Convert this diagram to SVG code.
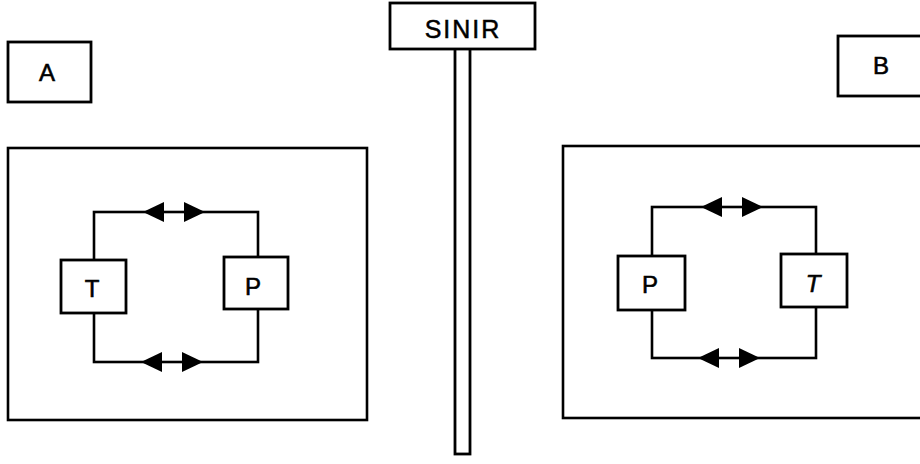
<svg xmlns="http://www.w3.org/2000/svg" width="920" height="464" viewBox="0 0 920 464">
  <style>
    .box { fill: #fff; stroke: #000; stroke-width: 2.8; }
    .frame { fill: none; stroke: #000; stroke-width: 2.6; }
    .wire { fill: none; stroke: #000; stroke-width: 2.6; }
    .lbl { font-family: "Liberation Sans", "DejaVu Sans", sans-serif; font-size: 24px; fill: #000; stroke: #000; stroke-width: 0.6; text-anchor: middle; }
    .sign { font-family: "Liberation Sans", "DejaVu Sans", sans-serif; font-size: 25px; fill: #000; stroke: #000; stroke-width: 0.5; text-anchor: middle; letter-spacing: 2px; }
  </style>
  <defs>
    <!-- pair of filled heads pointing outward, centred on the wire -->
    <g id="dbl">
      <polygon points="-31,0 -10,-10 -10,10" fill="#000"/>
      <polygon points="31,0 10,-10 10,10" fill="#000"/>
    </g>
  </defs>

  <rect width="920" height="464" fill="#fff"/>

  <!-- side A -->
  <g id="labelA">
    <rect class="box" x="8" y="42" width="83" height="60"/>
    <text class="lbl" x="47" y="81">A</text>
  </g>
  <g id="frameA">
    <rect class="frame" x="8" y="148" width="359" height="272"/>
  </g>

  <!-- side B -->
  <g id="labelB">
    <rect class="box" x="838" y="36" width="90" height="60"/>
    <text class="lbl" x="881" y="74">B</text>
  </g>
  <g id="frameB">
    <rect class="frame" x="563" y="146" width="365" height="272"/>
  </g>

  <!-- border sign post -->
  <g id="sinir">
    <rect class="box" x="455" y="48" width="15" height="406" stroke-width="3"/>
    <rect class="box" x="390" y="3" width="145" height="46"/>
    <text class="sign" x="463" y="38">SINIR</text>
  </g>

  <!-- connectors -->
  <g id="connectors">
    <rect class="wire" x="94" y="212" width="164" height="150"/>
    <use href="#dbl" x="174" y="212"/>
    <use href="#dbl" x="172" y="362"/>
    <rect class="wire" x="652" y="207" width="164" height="151"/>
    <use href="#dbl" x="732" y="207"/>
    <use href="#dbl" x="729" y="358"/>
  </g>

  <!-- nodes -->
  <g id="nodeA-T">
    <rect class="box" x="61" y="260" width="65" height="53"/>
    <text class="lbl" x="92" y="297">T</text>
  </g>
  <g id="nodeA-P">
    <rect class="box" x="224" y="257" width="64" height="52"/>
    <text class="lbl" x="253" y="295">P</text>
  </g>
  <g id="nodeB-P">
    <rect class="box" x="618" y="256" width="67" height="54"/>
    <text class="lbl" x="650" y="293">P</text>
  </g>
  <g id="nodeB-T">
    <rect class="box" x="781" y="254" width="66" height="53"/>
    <text class="lbl" x="813" y="292" font-style="italic">T</text>
  </g>
</svg>
